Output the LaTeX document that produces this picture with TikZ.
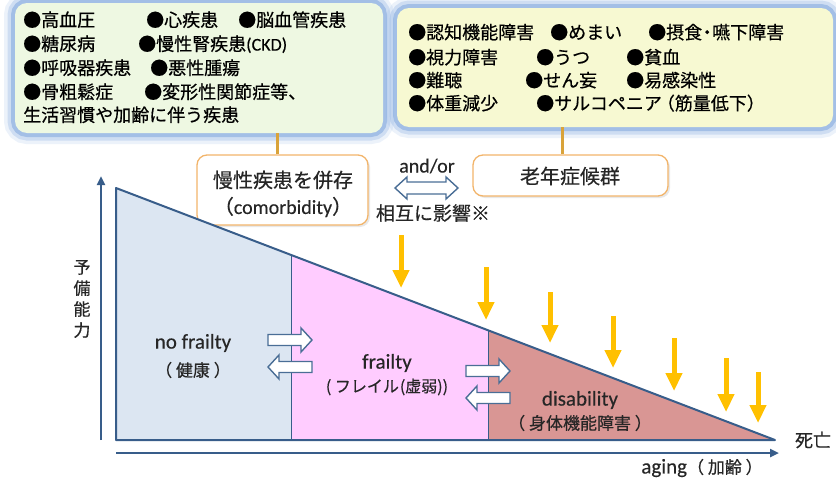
\documentclass[tikz,border=0pt]{standalone}
\usepackage{fontspec}
\setmainfont{Carlito}[FakeBold=0.3]
\newfontfamily\jp{Noto Sans CJK JP}[FakeBold=0.5]
\usetikzlibrary{arrows.meta,shadows}
\definecolor{outl}{HTML}{385D8A}
\definecolor{nofr}{HTML}{DCE6F2}
\definecolor{frail}{HTML}{FFCCFF}
\definecolor{disab}{HTML}{D99694}
\definecolor{gold}{HTML}{FFC000}
\definecolor{boxL}{HTML}{EEF8E2}
\definecolor{boxR}{HTML}{F7F9D2}
\definecolor{glow}{HTML}{7FA7DD}
\definecolor{obord}{HTML}{F2B46A}
\definecolor{conn}{HTML}{D9A33A}
\definecolor{harrow}{HTML}{4A6E96}
\definecolor{txt}{HTML}{262626}
\begin{document}
\begin{tikzpicture}[x=1pt,y=-1pt,
  jpline/.style={font=\fontsize{18}{20}\selectfont\jp, anchor=base west, inner sep=0pt, text=black},
  lab/.style={inner sep=0pt, text=txt},
  hollow/.style={draw=harrow, line width=1.4pt, fill=white, line join=miter},
  goldarrow/.style={draw=gold, line width=5pt, -{Triangle[length=18pt,width=16pt]}},
  axisarrow/.style={draw=outl, line width=2.5pt, -{Triangle[length=9pt,width=8pt]}},
  glowbox/.style={rounded corners=12pt, inner sep=0pt,
    preaction={draw=glow, line width=22pt, opacity=0.15},
    preaction={draw=glow, line width=15pt, opacity=0.28},
    preaction={draw=glow, line width=8pt, opacity=0.55}},
  obox/.style={draw=obord, line width=1.3pt, rounded corners=10pt, fill=white, inner sep=0pt,
    drop shadow={opacity=0.18, shadow xshift=2pt, shadow yshift=-2pt}},
  hollowR/.pic={\draw[hollow] (0,-5.5) -- (33,-5.5) -- (33,-12) -- (44,0) -- (33,12) -- (33,5.5) -- (0,5.5) -- cycle;}
]
\path[use as bounding box] (0,0) rectangle (836,479);

% top boxes
\node[glowbox, fill=boxL, minimum width=368pt, minimum height=130pt] (lbox) at (199,68) {};
\node[glowbox, fill=boxR, minimum width=436pt, minimum height=119pt] (rbox) at (615,67.5) {};

\node[jpline] (l1a) at (23,26.6) {●高血圧};
\node[jpline] (l1b) at (146,26.6) {●心疾患};
\node[jpline] (l1c) at (238,26.6) {●脳血管疾患};
\node[jpline] (l2a) at (23,50.6) {●糖尿病};
\node[jpline] (l2b) at (138,50.6) {●慢性腎疾患{\rmfamily (CKD)}};
\node[jpline] (l3a) at (23,74.6) {●呼吸器疾患};
\node[jpline] (l3b) at (150,74.6) {●悪性腫瘍};
\node[jpline] (l4a) at (23,98.6) {●骨粗鬆症};
\node[jpline] (l4b) at (144,98.6) {●変形性関節症等、};
\node[jpline] (l5a) at (23,121.6) {生活習慣や加齢に伴う疾患};

\node[jpline] (r1a) at (408,39) {●認知機能障害};
\node[jpline] (r1b) at (550,39) {●めまい};
\node[jpline] (r1c) at (648,39) {●摂食{\kern-4pt}・{\kern-4pt}嚥下障害};
\node[jpline] (r2a) at (408,64) {●視力障害};
\node[jpline] (r2b) at (536,64) {●うつ};
\node[jpline] (r2c) at (626,64) {●貧血};
\node[jpline] (r3a) at (408,87) {●難聴};
\node[jpline] (r3b) at (525,87) {●せん妄};
\node[jpline] (r3c) at (626,87) {●易感染性};
\node[jpline] (r4a) at (408,110) {●体重減少};
\node[jpline] (r4b) at (536,110) {●サルコペニア{\kern-5pt}（筋量低下）};

% middle boxes
\node[obox, minimum width=171pt, minimum height=70pt] (comorb) at (282.5,190) {};
\node[lab, font=\fontsize{20}{22}\selectfont\jp] (comorbA) at (283,180) {慢性疾患を併存};
\node[lab, font=\fontsize{20}{22}\selectfont] (comorbB) at (283,207) {{\jp （}comorbidity{\jp ）}};
\node[obox, minimum width=195pt, minimum height=41pt] (ronen) at (570.5,175.5) {};
\node[lab, font=\fontsize{20}{22}\selectfont\jp] (ronenT) at (570,176) {老年症候群};

\draw[conn, line width=3pt] ([xshift=-5pt]comorb.north) -- ([xshift=-5pt]comorb.north |- lbox.south);
\draw[conn, line width=3pt] ([xshift=-8.5pt]ronen.north) -- ([xshift=-8.5pt]ronen.north |- rbox.south);

\node[lab, font=\fontsize{20}{22}\selectfont] (andor) at (427,166) {and/or};
\draw[hollow] (395,188) -- (407,177) -- (407,182) -- (446,182) -- (446,177) -- (458,188) -- (446,199) -- (446,194) -- (407,194) -- (407,199) -- cycle;
\node[lab, font=\fontsize{19}{21}\selectfont\jp] (sougo) at (433,213) {相互に影響※};

% triangle
\coordinate (A) at (116,188);
\coordinate (B) at (116,440);
\coordinate (C) at (775,440);
\coordinate (P1) at (291,254.9);
\coordinate (Q1) at (291,440);
\coordinate (P2) at (488,330.3);
\coordinate (Q2) at (488,440);
\fill[nofr] (A) -- (P1) -- (Q1) -- (B) -- cycle;
\fill[frail] (P1) -- (P2) -- (Q2) -- (Q1) -- cycle;
\fill[disab] (P2) -- (C) -- (Q2) -- cycle;
\draw[outl, line width=0.9pt] (P1) -- (Q1) (P2) -- (Q2);
\draw[outl, line width=2pt, line join=round] (A) -- (C) -- (B) -- cycle;

% axes
\coordinate (V0) at (101,440);
\coordinate (V1) at (101,176);
\coordinate (H0) at (116,453);
\coordinate (H1) at (779,453);
\draw[axisarrow] (V0) -- (V1);
\draw[axisarrow] (H0) -- (H1);

\node[lab, font=\fontsize{17}{21}\selectfont\jp, align=center] (youbi) at (82,299) {予\\備\\能\\力};
\node[lab, font=\fontsize{18}{20}\selectfont\jp] (shibou) at (813,440) {死亡};
\node[lab, font=\fontsize{21}{23}\selectfont] (aging) at (702,468) {aging{\jp\fontsize{17}{20}\selectfont （ 加齢 ）}};

% state labels
\node[lab, font=\fontsize{21}{23}\selectfont] (nofrT) at (193,343) {no frailty};
\node[lab, font=\fontsize{17}{20}\selectfont\jp] (nofrJ) at (193,370) {（ 健康 ）};
\node[lab, font=\fontsize{21}{23}\selectfont] (frT) at (387,363) {frailty};
\node[lab, font=\fontsize{16}{20}\selectfont\jp] (frJ) at (387,387) {( フレイル{\kern1pt}(虚弱))};
\node[lab, font=\fontsize{21}{23}\selectfont] (disT) at (580,400) {disability};
\node[lab, font=\fontsize{17}{20}\selectfont\jp] (disJ) at (580,423) {（ 身体機能障害 ）};

% hollow transition arrows
\pic at (268,340) {hollowR};
\pic[rotate=180] at (312,367) {hollowR};
\pic at (466,371) {hollowR};
\pic[rotate=180] at (510,398) {hollowR};

% gold arrows
\foreach \x/\a/\b in {401/235/288, 486/267/320, 550/292/343, 613/316/368, 674/338/391, 726/358/412, 758/372/423}
  \draw[goldarrow] (\x,\a) -- (\x,\b);
\end{tikzpicture}
\end{document}
